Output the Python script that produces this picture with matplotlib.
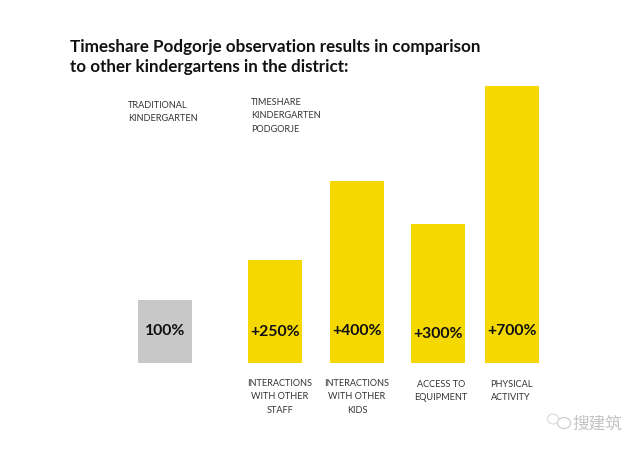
import matplotlib
matplotlib.use('Agg')
import matplotlib.pyplot as plt
from matplotlib.patches import Ellipse

# heights, in % of the traditional kindergarten bar
categories = ['TRADITIONAL', 'INTERACTIONS\nWITH OTHER\nSTAFF', 'INTERACTIONS\nWITH OTHER\nKIDS', 'ACCESS TO\nEQUIPMENT', 'PHYSICAL\nACTIVITY']
bar_heights = [100, 163, 289, 221, 440]
bar_labels = ['100%', '+250%', '+400%', '+300%', '+700%']
bar_centers = [165, 275, 357, 438, 512]
bar_colors = ['#c8c8c8', '#f5d800', '#f5d800', '#f5d800', '#f5d800']
label_py = [331, 332, 331, 334, 331]
title = 'Timeshare Podgorje observation results in comparison\nto other kindergartens in the district:'

plt.rcParams['font.family'] = ['Lato', 'DejaVu Sans']

W, H = 640, 452
BASE = 364
UNIT = 63 / 100


def px(x, y):
    return x / W, 1 - y / H


fig = plt.figure(figsize=(6.4, 4.52), dpi=100)
ax = fig.add_axes([0, 0, 1, 1])
ax.set_xlim(0, W)
ax.set_ylim(-(H - BASE) / UNIT, BASE / UNIT)
ax.axis('off')

ax.bar(bar_centers, bar_heights, width=54, color=bar_colors)

for c, lab, ly in zip(bar_centers, bar_labels, label_py):
    fig.text(*px(c, ly), lab, ha='center', va='center', fontsize=11.3,
             fontweight='bold', color='#111111')

# title and the two column heads
fig.text(*px(70, 57), title, ha='left', va='center', fontsize=12.25,
         fontweight='bold', color='#111111', linespacing=1.3)
fig.text(*px(128, 112), 'TRADITIONAL\nKINDERGARTEN', ha='left', va='center',
         fontsize=6.6, color='#333333', linespacing=1.45)
fig.text(*px(251, 116), 'TIMESHARE\nKINDERGARTEN\nPODGORJE', ha='left', va='center',
         fontsize=6.6, color='#333333', linespacing=1.6)

# captions under the yellow bars
cap_py = [397, 397, 391, 391]
cap_cx = [280, 357, 441, 511]
for cx, cy, cap in zip(cap_cx, cap_py, categories[1:]):
    fig.text(*px(cx, cy), cap, ha='center', va='center', fontsize=6.6,
             color='#333333', linespacing=1.6)

# watermark
ax.add_patch(Ellipse((564, (BASE - 424) / UNIT), 13, 11 / UNIT, fill=False, ec='#cfcfcf', lw=0.9))
ax.add_patch(Ellipse((553, (BASE - 420) / UNIT), 11, 10 / UNIT, fill=False, ec='#dcdcdc', lw=0.9))
fig.text(*px(597, 424), '搜建筑', ha='center', va='center', fontsize=12,
         family=['Noto Sans CJK SC', 'DejaVu Sans'], color='#c4c4c4')

fig.savefig('out.png', dpi=100)
